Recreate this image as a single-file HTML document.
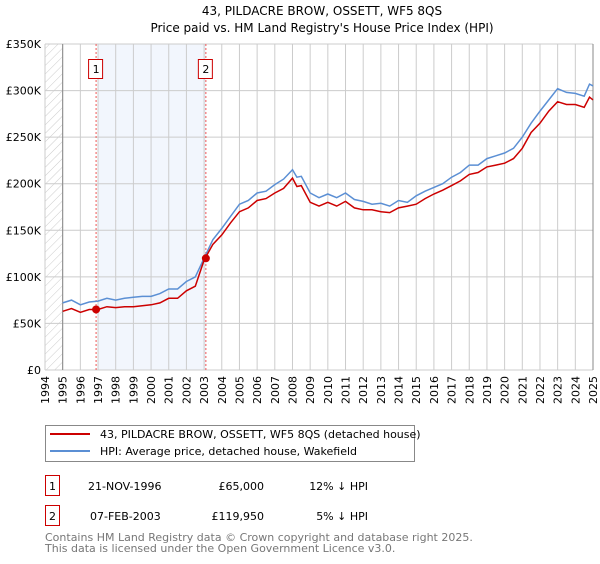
<!DOCTYPE html>
<html><head><meta charset="utf-8"><style>
body{margin:0;background:#fff;font-family:"DejaVu Sans",sans-serif;}
svg text{font-family:"DejaVu Sans",sans-serif;}
</style></head><body>
<svg id="c" width="600" height="560" xmlns="http://www.w3.org/2000/svg">
<defs><pattern id="hatch" width="6" height="6" patternUnits="userSpaceOnUse" patternTransform="rotate(45)"><line x1="0" y1="0" x2="0" y2="6" stroke="#ccc" stroke-width="1"/></pattern></defs>
<text x="322" y="15" text-anchor="middle" font-size="12">43, PILDACRE BROW, OSSETT, WF5 8QS</text>
<text x="322" y="32" text-anchor="middle" font-size="12">Price paid vs. HM Land Registry's House Price Index (HPI)</text>
<g id="plot"></g>
<rect x="45.5" y="425.5" width="369" height="36" fill="#fff" stroke="#888"/>
<line x1="50" y1="434" x2="90" y2="434" stroke="#cc0000" stroke-width="2"/>
<text x="100" y="438" font-size="11">43, PILDACRE BROW, OSSETT, WF5 8QS (detached house)</text>
<line x1="50" y1="451" x2="90" y2="451" stroke="#5b8fd4" stroke-width="2"/>
<text x="100" y="455" font-size="11">HPI: Average price, detached house, Wakefield</text>
<g>
<rect x="45.5" y="475.5" width="14" height="20" fill="#fff" stroke="#cc0000"/>
<text x="52.5" y="490" text-anchor="middle" font-size="11">1</text>
<text x="88" y="490" font-size="11">21-NOV-1996</text>
<text x="264" y="490" text-anchor="end" font-size="11">£65,000</text>
<text x="368" y="490" text-anchor="end" font-size="11">12% ↓ HPI</text></g>
<g>
<rect x="45.5" y="505.5" width="14" height="20" fill="#fff" stroke="#cc0000"/>
<text x="52.5" y="520" text-anchor="middle" font-size="11">2</text>
<text x="90" y="520" font-size="11">07-FEB-2003</text>
<text x="264" y="520" text-anchor="end" font-size="11">£119,950</text>
<text x="368" y="520" text-anchor="end" font-size="11">5% ↓ HPI</text></g>
<text x="45" y="541" font-size="11" fill="#777">Contains HM Land Registry data © Crown copyright and database right 2025.</text>
<text x="45" y="552" font-size="11" fill="#777">This data is licensed under the Open Government Licence v3.0.</text>
</svg>
<script>
const hpiYears=[1995,1995.5,1996,1996.5,1997,1997.5,1998,1998.5,1999,1999.5,2000,2000.5,2001,2001.5,2002,2002.5,2003,2003.5,2004,2004.5,2005,2005.5,2006,2006.5,2007,2007.5,2008,2008.25,2008.5,2009,2009.5,2010,2010.5,2011,2011.5,2012,2012.5,2013,2013.5,2014,2014.5,2015,2015.5,2016,2016.5,2017,2017.5,2018,2018.5,2019,2019.5,2020,2020.5,2021,2021.5,2022,2022.5,2023,2023.5,2024,2024.5,2024.8,2025];
const hpiValues=[72,75,70,73,74,77,75,77,78,79,79,82,87,87,95,100,120,140,152,165,178,182,190,192,199,205,215,207,208,190,185,189,185,190,183,181,178,179,176,182,180,187,192,196,200,207,212,220,220,227,230,233,238,250,265,278,290,302,298,297,294,307,305];
const propValues=[63,66,62,65,65,68,67,68,68,69,70,72,77,77,85,90,118,135,145,158,170,174,182,184,190,195,206,197,198,180,176,180,176,181,174,172,172,170,169,174,176,178,184,189,193,198,203,210,212,218,220,222,227,238,255,265,278,288,285,285,282,293,290];
const saleYears=[1996.89,2003.1];
const saleValues=[65,119.95];
const saleLabels=["1","2"];
const yTicks=[0,50,100,150,200,250,300,350];
const yTickLabels=["£0","£50K","£100K","£150K","£200K","£250K","£300K","£350K"];
const xTicks=[];for(let y=1994;y<=2025;y++)xTicks.push(y);
const X0=45,X1=593,Y0=370,Y1=44;
const x=v=>X0+(v-1994)/(2025-1994)*(X1-X0);
const y=v=>Y0-v/350*(Y0-Y1);
const NS="http://www.w3.org/2000/svg",g=document.getElementById('plot');
function mk(t,a){const e=document.createElementNS(NS,t);for(const k in a)e.setAttribute(k,a[k]);g.appendChild(e);return e;}
let e;
e=mk('rect',{x:x(1994),y:Y1,width:x(1995)-x(1994),height:Y0-Y1,fill:'url(#hatch)'});


e=mk('rect',{x:x(saleYears[0])+2,y:Y1,width:x(saleYears[1])-x(saleYears[0])-2,height:Y0-Y1,fill:'#f2f6fd'});


xTicks.forEach((t,i)=>{
 e=mk('line',{x1:x(t),x2:x(t),y1:Y1,y2:Y0,stroke:'#ccc'});
 
 
 e=mk('text',{x:0,y:0,'font-size':11,'text-anchor':'end',transform:`translate(${x(t)+4},${Y0+6}) rotate(-90)`});e.textContent=t;
 
 
});
yTicks.forEach((t,i)=>{
 e=mk('line',{x1:X0,x2:X1,y1:y(t),y2:y(t),stroke:'#ccc'});
 
 
 e=mk('text',{x:X0-4,y:y(t)+4,'font-size':11,'text-anchor':'end'});e.textContent=yTickLabels[i];
 
 
});
e=mk('line',{x1:x(1995),x2:x(1995),y1:Y1,y2:Y0,stroke:'#888'});


e=mk('line',{x1:X1,x2:X1,y1:Y1,y2:Y0,stroke:'#888'});


saleYears.forEach((s,i)=>{
 e=mk('line',{x1:x(s),x2:x(s),y1:Y1,y2:Y0,stroke:'#e55','stroke-dasharray':'2,2'});
 
 
 e=mk('rect',{x:x(s)-7.5,y:59.5,width:14,height:19,fill:'#fff',stroke:'#cc0000'});
 
 
 e=mk('text',{x:x(s),y:73,'font-size':11,'text-anchor':'middle'});e.textContent=saleLabels[i];
 
 
});
const path=vals=>hpiYears.map((t,i)=>(i?'L':'M')+x(t).toFixed(1)+','+y(vals[i]).toFixed(1)).join('');
e=mk('path',{d:path(hpiValues),fill:'none',stroke:'#5b8fd4','stroke-width':1.5});


e=mk('path',{d:path(propValues),fill:'none',stroke:'#cc0000','stroke-width':1.5});


saleYears.forEach((s,i)=>{
 e=mk('circle',{cx:x(s),cy:y(saleValues[i]),r:4,fill:'#cc0000'});
 
 
});
</script>
</body></html>
